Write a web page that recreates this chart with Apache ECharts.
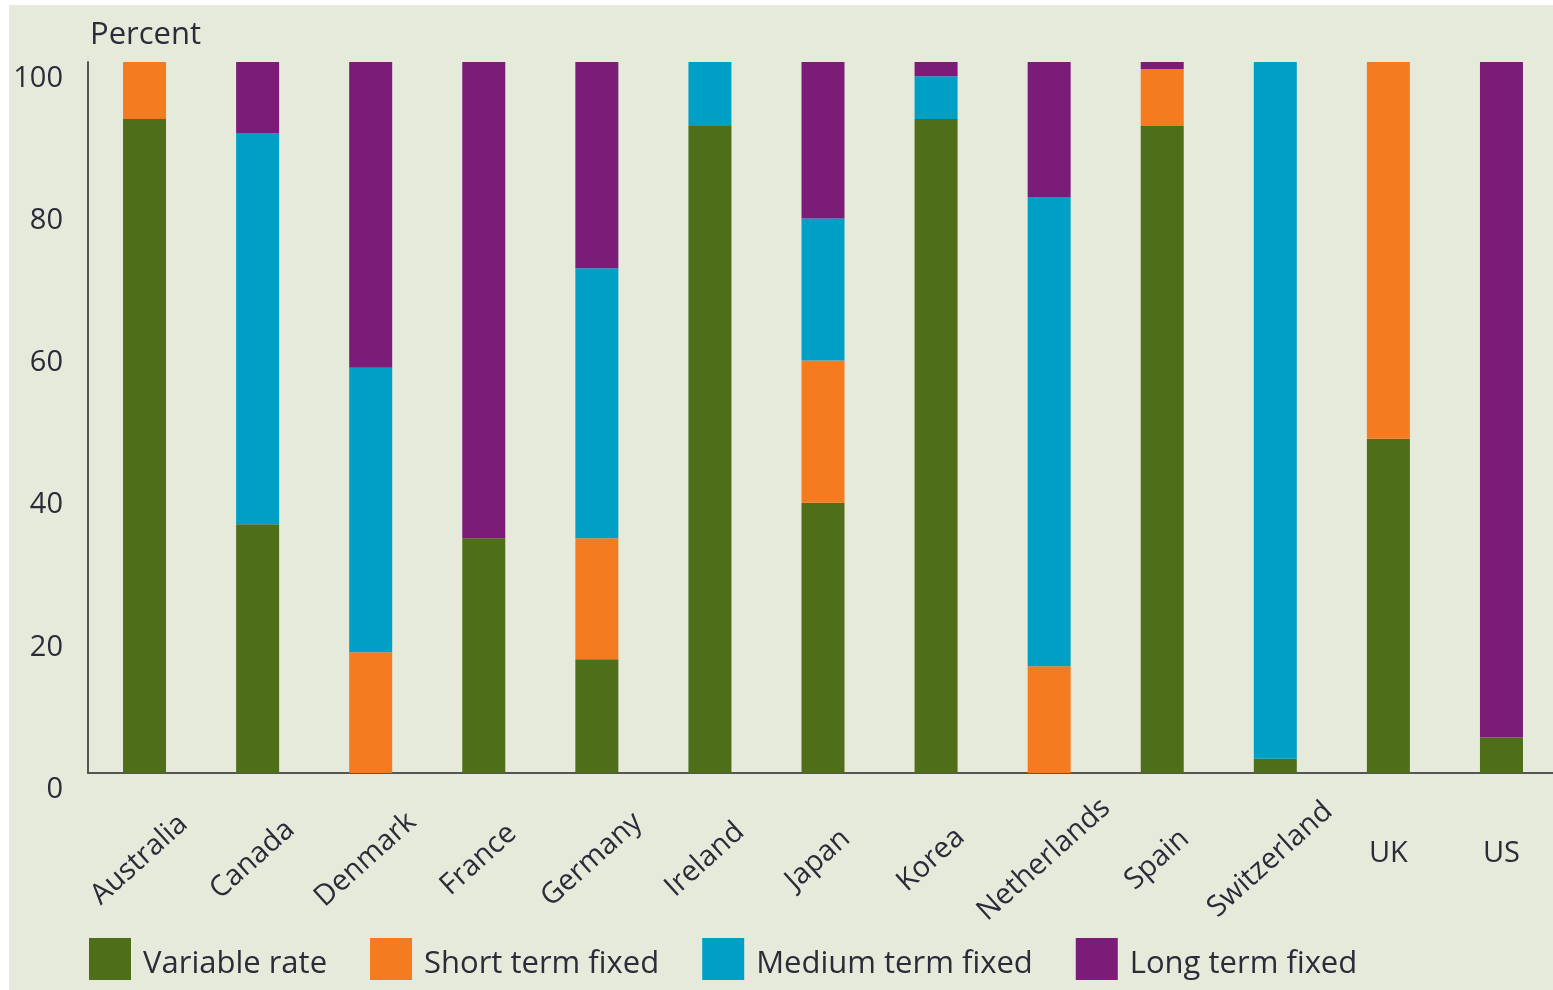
<!DOCTYPE html>
<html><head><meta charset="utf-8">
<script src="https://cdn.jsdelivr.net/npm/echarts@6/dist/echarts.min.js"></script>
<style>
html,body{margin:0;padding:0;background:#fff;width:1553px;height:990px;overflow:hidden}
#c{position:absolute;left:9px;top:5px;width:1553px;height:985px}
</style></head>
<body><div id="c"></div>
<script>
const categories = ['Australia','Canada','Denmark','France','Germany','Ireland','Japan','Korea','Netherlands','Spain','Switzerland','UK','US'];
const variableRate   = [92, 35, 0, 33, 16, 91, 38, 92, 0, 91, 2, 47, 5];
const shortTermFixed = [8, 0, 17, 0, 17, 0, 20, 0, 15, 8, 0, 53, 0];
const mediumTermFixed= [0, 55, 40, 0, 38, 9, 20, 6, 66, 0, 98, 0, 0];
const longTermFixed  = [0, 10, 43, 67, 29, 0, 22, 2, 19, 1, 0, 0, 95];
const yTicks = [0, 20, 40, 60, 80, 100];
const flatLabels = ['UK','US'];

const FONT = 'Open Sans';
const TXT = '#2b2c3a';
const mk = (name, data, color) => ({
  name, type:'bar', stack:'t', data, barWidth:43,
  itemStyle:{color}, emphasis:{disabled:true}
});
const chart = echarts.init(document.getElementById('c'));
chart.setOption({
  backgroundColor:'#e6eadb',
  animation:false,
  textStyle:{fontFamily:FONT},
  title:{text:'Percent', left:76, top:10, textStyle:{fontFamily:FONT, fontSize:31, fontWeight:'normal', color:TXT}},
  grid:{left:79, top:57, right:4, bottom:217, containLabel:false},
  legend:{
    left:75, top:928, itemWidth:42, itemHeight:42, itemGap:43, icon:'rect',
    formatter:'{t|{name}}',
    textStyle:{fontFamily:FONT, fontSize:31, color:TXT,
      rich:{t:{fontFamily:FONT, fontSize:31, color:TXT, padding:[10,0,0,7]}}},
    data:['Variable rate','Short term fixed','Medium term fixed','Long term fixed']
  },
  xAxis:[{
    type:'category', data:categories, position:'bottom',
    axisLine:{show:true, lineStyle:{color:'#555', width:2}},
    axisTick:{show:false},
    axisLabel:{rotate:42, align:'center', verticalAlign:'middle', margin:82,
      fontFamily:FONT, fontSize:29, color:TXT, interval:0, padding:[0,14,0,0],
      formatter:v => flatLabels.includes(v) ? '' : v}
  },{
    type:'category', data:categories, position:'bottom',
    axisLine:{show:false}, axisTick:{show:false},
    axisLabel:{rotate:0, margin:66, fontFamily:FONT, fontSize:29, color:TXT, interval:0,
      formatter:v => flatLabels.includes(v) ? v : ''}
  }],
  yAxis:{
    type:'value', min:yTicks[0], max:yTicks[yTicks.length-1], interval:20,
    axisLine:{show:true, lineStyle:{color:'#555', width:2}},
    axisTick:{show:false}, splitLine:{show:false},
    axisLabel:{margin:25, fontFamily:FONT, fontSize:29, color:TXT, verticalAlign:'top', padding:[2,0,0,0]}
  },
  series:[
    mk('Variable rate', variableRate, '#4e6e1a'),
    mk('Short term fixed', shortTermFixed, '#f47b20'),
    mk('Medium term fixed', mediumTermFixed, '#00a0c6'),
    mk('Long term fixed', longTermFixed, '#7a1c78')
  ]
});
</script></body></html>
